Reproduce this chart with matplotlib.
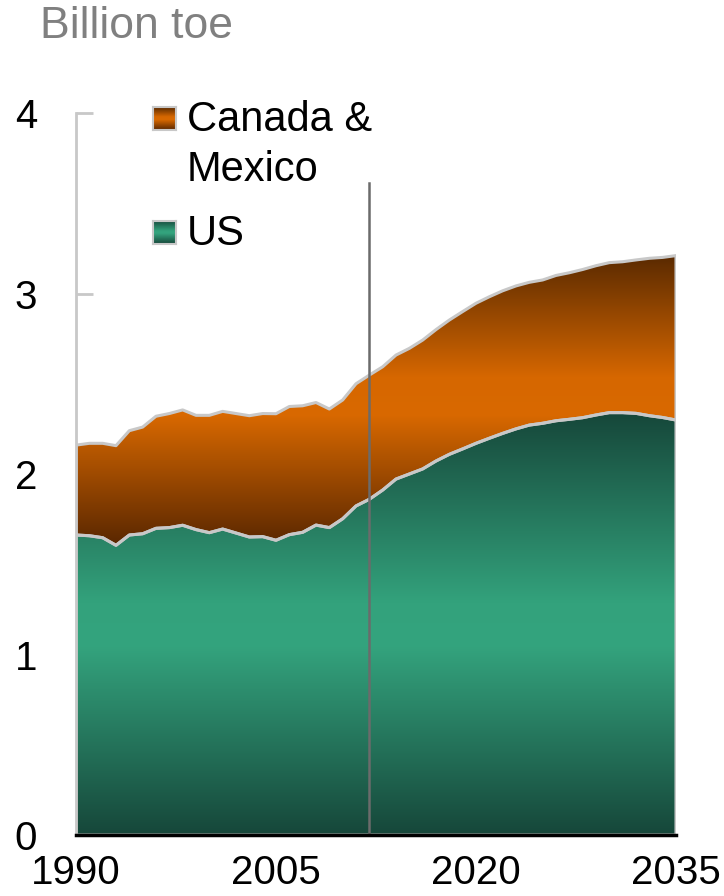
import numpy as np
import matplotlib
matplotlib.use("Agg")
import matplotlib.pyplot as plt
from matplotlib.colors import LinearSegmentedColormap

years = np.arange(1990, 2036)

us = [1.662, 1.658, 1.647, 1.605, 1.662, 1.669, 1.699, 1.703, 1.716, 1.692,
      1.675, 1.695, 1.673, 1.651, 1.653, 1.633, 1.664, 1.677, 1.717, 1.703,
      1.752, 1.823, 1.860, 1.911, 1.972, 2.000, 2.028, 2.072, 2.109, 2.139,
      2.170, 2.198, 2.225, 2.250, 2.271, 2.281, 2.295, 2.303, 2.312, 2.327,
      2.340, 2.340, 2.336, 2.323, 2.313, 2.299]

total = [2.160, 2.170, 2.170, 2.157, 2.240, 2.260, 2.320, 2.335, 2.355, 2.325,
         2.325, 2.347, 2.335, 2.323, 2.335, 2.334, 2.374, 2.378, 2.396, 2.360,
         2.410, 2.500, 2.548, 2.594, 2.659, 2.696, 2.742, 2.800, 2.853, 2.900,
         2.946, 2.982, 3.015, 3.042, 3.062, 3.075, 3.100, 3.115, 3.133, 3.154,
         3.171, 3.176, 3.186, 3.195, 3.200, 3.210]

labels = [["Canada &", "Mexico"], ["US"]]
xticks = [1990, 2005, 2020, 2035]
yticks = [0, 1, 2, 3, 4]
outlook_year = 2012

orange_cm = LinearSegmentedColormap.from_list(
    "orange", [(0, "#5a2700"), (0.45, "#d96900"), (0.58, "#d66700"), (1, "#5a2a00")])
green_cm = LinearSegmentedColormap.from_list(
    "green", [(0, "#16473a"), (0.45, "#34a47e"), (0.55, "#33a27c"), (1, "#16473a")])

font = ["Liberation Sans", "DejaVu Sans"]


def gradient_fill(ax, x, lo, hi, cmap):
    poly = ax.fill_between(x, lo, hi, facecolor="none", edgecolor="#c8c8c8",
                           linewidth=2.2, zorder=3)
    ymin, ymax = np.min(lo), np.max(hi)
    grad = np.linspace(1, 0, 256).reshape(-1, 1)
    im = ax.imshow(grad, cmap=cmap, aspect="auto", zorder=2,
                   extent=[x[0], x[-1], ymin, ymax], origin="upper")
    im.set_clip_path(poly.get_paths()[0], transform=ax.transData)
    return poly


fig = plt.figure(figsize=(7.24, 8.96), dpi=100)
ax = fig.add_axes([76 / 724, 61 / 896, 600 / 724, 722 / 896])

zeros = np.zeros(len(years))
gradient_fill(ax, years, zeros, np.array(us), green_cm)
gradient_fill(ax, years, np.array(us), np.array(total), orange_cm)

ax.plot([outlook_year, outlook_year], [0, 3.61], color="#6b6b6b", lw=1.8, zorder=4)

ax.set_xlim(1990, 2035)
ax.set_ylim(0, 4)
ax.set_xticks(xticks)
ax.set_yticks(yticks)
ax.set_xticklabels([str(t) for t in xticks], family=font, fontsize=29)
ax.set_yticklabels([str(t) for t in yticks], family=font, fontsize=29)
ax.tick_params(axis="y", direction="in", length=12, width=2, color="#c8c8c8", pad=28)
ax.tick_params(axis="x", length=0, pad=14)
for s in ["top", "right"]:
    ax.spines[s].set_visible(False)
ax.spines["left"].set_color("#c8c8c8")
ax.spines["left"].set_linewidth(2)
ax.spines["bottom"].set_color("black")
ax.spines["bottom"].set_linewidth(2.5)
ax.spines["bottom"].set_zorder(5)
ax.yaxis.get_major_ticks()[0].tick1line.set_visible(False)
ax.patch.set_alpha(0)

fig.text(40 / 724, 1 - 38 / 896, "Billion toe", family=font, fontsize=32,
         color="#808080", va="baseline")

# legend
legend_rows = [(orange_cm, 107, labels[0]), (green_cm, 221, labels[1])]
for cmap, ytop, lines in legend_rows:
    lax = fig.add_axes([153 / 724, 1 - (ytop + 23) / 896, 23 / 724, 23 / 896])
    lax.imshow(np.linspace(1, 0, 64).reshape(-1, 1), cmap=cmap, aspect="auto")
    lax.set_xticks([])
    lax.set_yticks([])
    for sp in lax.spines.values():
        sp.set_color("#c8c8c8")
        sp.set_linewidth(1.5)
    for i, line in enumerate(lines):
        base = ytop + 24 + i * 50
        fig.text(187 / 724, 1 - base / 896, line, family=font, fontsize=30,
                 color="black", va="baseline")

fig.savefig("out.png", dpi=100)
